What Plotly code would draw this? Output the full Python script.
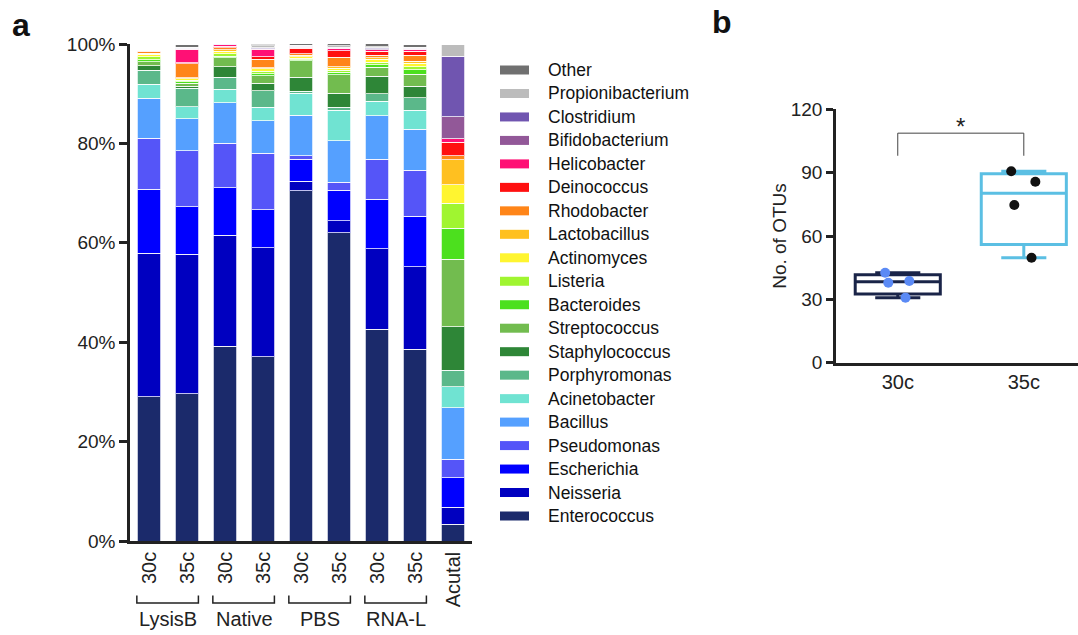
import numpy as np
import plotly.graph_objects as go

# ---------------- data: panel a ----------------
samples = ["LysisB-30c", "LysisB-35c", "Native-30c", "Native-35c", "PBS-30c",
           "PBS-35c", "RNA-L-30c", "RNA-L-35c", "Acutal"]
tick_labels = ["30c", "35c", "30c", "35c", "30c", "35c", "30c", "35c", "Acutal"]
groups = ["LysisB", "Native", "PBS", "RNA-L"]
y_ticks = [0, 20, 40, 60, 80, 100]

genera = ["Enterococcus", "Neisseria", "Escherichia", "Pseudomonas", "Bacillus",
          "Acinetobacter", "Porphyromonas", "Staphylococcus", "Streptococcus",
          "Bacteroides", "Listeria", "Actinomyces", "Lactobacillus", "Rhodobacter",
          "Deinococcus", "Helicobacter", "Bifidobacterium", "Clostridium",
          "Propionibacterium", "Other"]

enterococcus = [29.0, 29.6, 39.2, 37.1, 70.5, 62.0, 42.6, 38.6, 3.4]
neisseria = [28.9, 28.1, 22.3, 21.9, 1.9, 2.4, 16.2, 16.6, 3.4]
escherichia = [12.9, 9.6, 9.6, 7.7, 4.4, 6.2, 10.0, 10.1, 5.9]
pseudomonas = [10.2, 11.2, 8.9, 11.3, 0.7, 1.6, 8.0, 9.3, 3.7]
bacillus = [8.1, 6.5, 8.2, 6.6, 8.2, 8.3, 8.8, 8.2, 10.4]
acinetobacter = [2.8, 2.4, 2.7, 2.7, 4.4, 6.2, 2.9, 3.9, 4.2]
porphyromonas = [2.8, 3.7, 2.4, 3.3, 0.4, 0.6, 1.5, 2.5, 3.4]
staphylococcus = [0.9, 0.4, 2.1, 1.5, 2.8, 2.8, 3.5, 2.3, 8.7]
streptococcus = [0.8, 0.6, 1.8, 1.5, 3.3, 3.7, 1.8, 2.4, 13.6]
bacteroides = [0.4, 0.3, 0.3, 0.4, 0.2, 0.5, 0.5, 0.9, 6.2]
listeria = [0.6, 0.3, 0.5, 0.5, 0.3, 0.4, 0.5, 0.6, 5.1]
actinomyces = [0.5, 0.3, 0.5, 0.5, 0.3, 0.4, 0.6, 0.7, 3.7]
lactobacillus = [0.2, 0.2, 0.3, 0.2, 0.3, 0.3, 0.3, 0.4, 5.0]
rhodobacter = [0.3, 2.8, 0.4, 1.7, 0.3, 1.9, 0.5, 1.2, 0.8]
deinococcus = [0.1, 0.2, 0.3, 0.5, 1.1, 1.3, 0.8, 0.8, 2.7]
helicobacter = [0.1, 2.7, 0.3, 1.5, 0.2, 0.5, 0.3, 0.4, 0.7]
bifidobacterium = [0.0, 0.1, 0.1, 0.1, 0.1, 0.1, 0.2, 0.1, 4.5]
clostridium = [0.0, 0.1, 0.1, 0.2, 0.1, 0.1, 0.2, 0.1, 12.1]
propionibacterium = [0.0, 0.2, 0.2, 0.4, 0.2, 0.3, 0.2, 0.2, 2.4]
other = [0.0, 0.6, 0.2, 0.4, 0.4, 0.5, 0.7, 0.5, 0.0]

abundances = [enterococcus, neisseria, escherichia, pseudomonas, bacillus,
              acinetobacter, porphyromonas, staphylococcus, streptococcus,
              bacteroides, listeria, actinomyces, lactobacillus, rhodobacter,
              deinococcus, helicobacter, bifidobacterium, clostridium,
              propionibacterium, other]

colors = ["#1b2a6b", "#0000c0", "#0000ff", "#5555f8", "#55a0ff",
          "#70e3d2", "#5bb88a", "#2e8637", "#72bc4f", "#4ce01e",
          "#a0f530", "#fff530", "#ffc020", "#ff8518", "#ff1010",
          "#ff1075", "#925898", "#7055b0", "#bcbcbc", "#707070"]

# ---------------- data: panel b ----------------
otu_groups = ["30c", "35c"]
otu_30c = [42.6, 38.7, 37.9, 30.8]
otu_35c = [90.7, 85.7, 74.7, 49.7]
otu_values = [otu_30c, otu_35c]
otu_ticks = [0, 30, 60, 90, 120]
box_colors = ["#1a2448", "#5bbfe3"]
point_colors = ["#5b8af5", "#111111"]

FONT = "Arial, Liberation Sans, sans-serif"
W, H = 1078, 635
INK = "#222222"

fig = go.Figure()

# stacked bars (panel a)
for name, vals, col in zip(genera, abundances, colors):
    fig.add_trace(go.Bar(
        x=samples, y=vals, name=name, showlegend=False,
        marker=dict(color=col, line=dict(color="rgba(255,255,255,0.75)", width=1)),
        width=0.63, xaxis="x", yaxis="y",
    ))

# box plots (panel b): quartiles as in the original software ((n+1)p rule)
for g, vals, bc, pc in zip(otu_groups, otu_values, box_colors, point_colors):
    arr = np.array(vals)
    q1 = float(np.percentile(arr, 25, method="weibull"))
    med = float(np.percentile(arr, 50, method="weibull"))
    q3 = float(np.percentile(arr, 75, method="weibull"))
    fig.add_trace(go.Box(
        x=[g], q1=[q1], median=[med], q3=[q3],
        lowerfence=[float(arr.min())], upperfence=[float(arr.max())],
        xaxis="x2", yaxis="y2", width=0.675, whiskerwidth=0.53,
        fillcolor="white", line=dict(color=bc, width=3), showlegend=False,
        hoverinfo="skip",
    ))
    # the individual points, jittered by plotly over the box
    fig.add_trace(go.Box(
        x=[g] * len(vals), y=vals, xaxis="x2", yaxis="y2",
        boxpoints="all", jitter=0.35, pointpos=0, width=0.675,
        fillcolor="rgba(0,0,0,0)", line=dict(color="rgba(0,0,0,0)", width=0),
        marker=dict(color=pc, size=10, line=dict(width=0)), showlegend=False,
    ))

ax_common = dict(showline=True, linecolor=INK, linewidth=2.5, showgrid=False,
                 zeroline=False, automargin=False)

fig.update_layout(
    xaxis=dict(domain=[130 / W, 472 / W], anchor="y", type="category",
               range=[-0.5, len(samples) - 0.5],
               tickvals=samples, ticktext=tick_labels, tickangle=-90, ticks="",
               tickfont=dict(family=FONT, size=20, color=INK), **ax_common),
    yaxis=dict(domain=[1 - 541 / H, 1 - 44 / H], anchor="x", range=[0, 100],
               tickvals=y_ticks, ticktext=[f"{v}%" for v in y_ticks],
               ticks="outside", ticklen=8, tickwidth=2.5, tickcolor=INK,
               tickfont=dict(family=FONT, size=19, color=INK), **ax_common),
    xaxis2=dict(domain=[836 / W, 1.0], anchor="y2", type="category",
                categoryorder="array", categoryarray=otu_groups,
                range=[-0.49, 1.43], ticks="",
                tickfont=dict(family=FONT, size=20, color=INK), **ax_common),
    yaxis2=dict(domain=[1 - 362.7 / H, 1 - 109.3 / H], anchor="x2", range=[0, 120],
                tickvals=otu_ticks, ticks="outside", ticklen=7,
                tickwidth=2.5, tickcolor=INK,
                tickfont=dict(family=FONT, size=19, color=INK),
                title=dict(text="No. of OTUs", font=dict(family=FONT, size=19, color=INK),
                           standoff=0),
                **ax_common),
)

shapes = []
annotations = []

# group brackets under panel a
yb_top, yb_bot = 1 - 595.5 / H, 1 - 603 / H
for i, g in enumerate(groups):
    xl = 2 * i - 0.32
    xr = 2 * i + 1 + 0.3
    shapes.append(dict(type="path", xref="x", yref="paper",
                       path=f"M {xl} {yb_top} L {xl} {yb_bot} L {xr} {yb_bot} L {xr} {yb_top}",
                       line=dict(color=INK, width=1.5)))
    annotations.append(dict(x=2 * i + 0.5, y=1 - 619 / H, xref="x", yref="paper",
                            text=g, showarrow=False, xanchor="center", yanchor="middle",
                            font=dict(family=FONT, size=20, color=INK)))

# legend (drawn next to panel a, top item = last stacked series)
leg_top, leg_step = 70, (516 - 70) / (len(genera) - 1)
for k, (name, col) in enumerate(zip(genera[::-1], colors[::-1])):
    yc = leg_top + k * leg_step
    shapes.append(dict(type="rect", xref="paper", yref="paper",
                       x0=500 / W, x1=529 / W, y0=1 - (yc - 4.5) / H, y1=1 - (yc + 4.5) / H,
                       fillcolor=col, line=dict(width=0)))
    annotations.append(dict(x=546 / W, y=1 - yc / H, xref="paper", yref="paper",
                            text=name, showarrow=False, xanchor="left", yanchor="middle",
                            font=dict(family=FONT, size=17.5, color="#111")))

# significance bracket in panel b
shapes.append(dict(type="path", xref="x2", yref="y2",
                   path="M 0 98 L 0 108.7 L 1 108.7 L 1 98",
                   line=dict(color="#444", width=1)))
annotations.append(dict(x=0.5, y=112, xref="x2", yref="y2", text="*", showarrow=False,
                        xanchor="center", yanchor="middle",
                        font=dict(family=FONT, size=24, color=INK)))

# panel letters
annotations.append(dict(x=21 / W, y=1 - 25 / H, xref="paper", yref="paper", text="<b>a</b>",
                        showarrow=False, xanchor="center", yanchor="middle",
                        font=dict(family=FONT, size=32, color="#111")))
annotations.append(dict(x=722 / W, y=1 - 22 / H, xref="paper", yref="paper", text="<b>b</b>",
                        showarrow=False, xanchor="center", yanchor="middle",
                        font=dict(family=FONT, size=32, color="#111")))

fig.update_layout(
    width=W, height=H, margin=dict(l=0, r=0, t=0, b=0, autoexpand=False),
    paper_bgcolor="white", plot_bgcolor="white",
    barmode="stack", showlegend=False,
    shapes=shapes, annotations=annotations,
    font=dict(family=FONT, color=INK),
)

fig.write_html("out.html")
